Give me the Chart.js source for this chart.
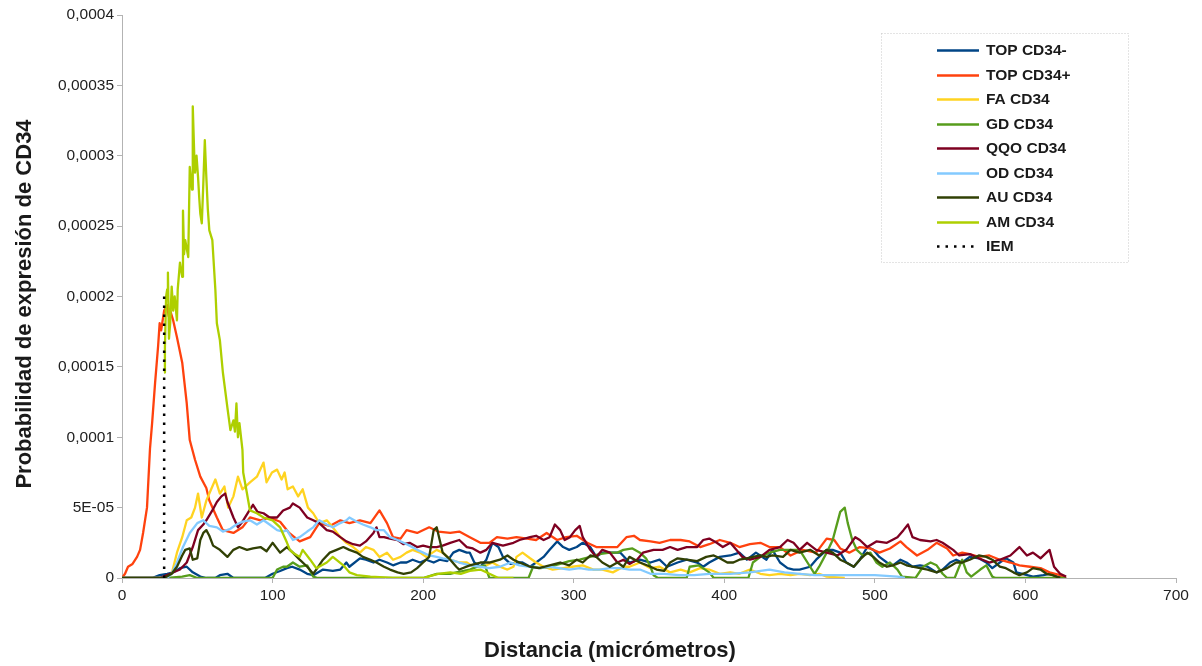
<!DOCTYPE html>
<html>
<head>
<meta charset="utf-8">
<script src="https://cdn.jsdelivr.net/npm/chart.js@4/dist/chart.umd.min.js"></script>
<style>
  html, body { margin: 0; padding: 0; background: #ffffff; }
  #wrap { width: 1202px; height: 666px; }
</style>
</head>
<body>
<div id="wrap"><canvas id="c" width="1202" height="666"></canvas></div>
<script>
// Distance (µm) vs. CD34 expression probability, values given in units of 1e-6.
const VALUE_UNIT = 1e-6;

const seriesLabels = ['TOP CD34-', 'TOP CD34+', 'FA CD34', 'GD CD34', 'QQO CD34', 'OD CD34', 'AU CD34', 'AM CD34', 'IEM'];
const xTitle = 'Distancia (micrómetros)';
const yTitle = 'Probabilidad de expresión de CD34';

const topNeg = [[0,0],[20,0],[25,2],[30,3],[34,4],[38.5,7],[43,8],[47,4],[52,1],[56,0],[62,0],[65,2],[70,3],[74,0],[95,0],[100,3],[105,5],[109.5,7],[113,8],[118,6],[123,3],[127,2],[133.5,6],[140,5],[145,6],[149,11],[151,8],[158,14],[162,13],[167,11],[171,13],[176,11],[180,9],[185,11],[189,11],[193,13],[198,11],[202,13],[207,11],[211,13],[216,12],[220,18],[224,20],[229,18],[231,18],[234,11],[238,8],[242,13],[246,25],[250,22],[253,15],[258,10],[262,11],[266,11],[271,8],[275,11],[280,15],[284,20],[289,26],[293,22],[297,20],[302,22],[306,25],[311,22],[315,15],[319,18],[326,18],[331,18],[337,11],[344,13],[351,11],[357,13],[362,8],[369,11],[375,13],[382,11],[386,8],[390,11],[397,15],[404,16],[410,18],[415,13],[421,18],[428,13],[432,20],[437,11],[442,7],[446,6],[450,6],[457,8],[461,13],[468,20],[472,20],[477,18],[481,11],[486,8],[490,13],[495,22],[499,20],[503,15],[508,11],[512,9],[517,13],[521,11],[525,8],[530,9],[535,8],[541,4],[545,6],[550,11],[554,13],[558,11],[563,15],[569,14],[574,11],[578,7],[583,11],[587,14],[592,11],[594,4],[598,3],[605,1],[612,2],[616,3],[621,1],[627,0]];

const topPos = [[0,0],[2,3],[4,8],[7,10],[10,15],[12,20],[14,32],[16.6,50],[18.6,92],[20,110],[22,139],[24,165],[25,181],[26,176],[28,190],[30,194],[31,186],[32,190],[34,183],[36.5,171],[40,153],[43,124],[45,98],[46.5,92],[48.5,84],[52,72],[56,64],[58,55],[63,43],[67,34],[74,32],[80,36],[85,43],[92,41],[98,43],[105,40],[111,32],[118,26],[125,29],[131,39],[138,37],[145,41],[151,39],[158,41],[165,39],[171,48],[176,39],[180,29],[185,28],[189,34],[196,32],[204,36],[210,33],[218,32],[224,33],[231,29],[238,25],[244,25],[249,29],[256,28],[262,29],[269,28],[275,27],[282,32],[289,27],[295,29],[302,30],[309,25],[315,22],[322,22],[329,22],[335,29],[340,30],[344,27],[351,26],[357,25],[364,27],[371,27],[377,26],[384,22],[390,24],[397,27],[404,25],[410,22],[417,24],[424,25],[430,22],[437,22],[444,16],[452,20],[461,18],[468,28],[473,27],[477,21],[483,18],[490,22],[497,21],[503,18],[510,21],[517,26],[521,22],[528,16],[535,20],[541,25],[548,21],[552,16],[558,18],[563,17],[569,15],[576,16],[583,13],[590,11],[596,9],[603,8],[610,7],[616,4],[623,2],[627,0]];

const fa = [[0,0],[25,0],[30,1],[33,3],[36.5,18],[40,29],[43,41],[46,43],[48.5,50],[50.5,60],[53,43],[56,55],[58,60],[62,70],[65,60],[68,65],[70.5,50],[74,58],[77,72],[80,63],[85,68],[89.6,72],[94,82],[96,68],[99.6,75],[103,77],[106,70],[108,75],[110,63],[113.5,65],[117,58],[120,63],[123.5,50],[127,46],[131,39],[136,41],[140,36],[145,29],[149,25],[153.5,22],[158,18],[162,22],[167,20],[171,15],[176,18],[180,13],[185,15],[189,18],[193,20],[198,18],[202,15],[209,20],[213,18],[218,13],[224,11],[229,11],[233,8],[240,8],[246,11],[251,8],[256,6],[260,8],[262,15],[266,18],[271,14],[275,11],[280,8],[286,6],[293,7],[299,8],[306,9],[313,6],[319,6],[326,4],[333,8],[337,8],[344,11],[351,7],[357,8],[364,4],[371,6],[377,4],[384,7],[390,6],[397,3],[404,4],[410,3],[417,6],[424,3],[430,2],[437,3],[444,2],[450,3],[457,2],[463,3],[468,1],[480,0]];

const gd = [[0,0],[30,0],[40,1],[45,2],[50,0],[100,0],[103,6],[107,8],[109.5,8],[113.5,11],[118,8],[123,9],[127,1],[130,0],[200,0],[209,3],[218,3],[222,4],[227,5],[231,6],[236,8],[241,9],[244,0],[270,0],[273,8],[278,7],[284,8],[291,10],[297,12],[304,13],[311,15],[317,17],[324,18],[329,18],[333,20],[339,21],[344,18],[348,14],[351,8],[353,2],[356,0],[375,0],[377,8],[383,9],[390,4],[393,0],[416,0],[419,11],[424,15],[430,18],[437,20],[444,20],[450,20],[457,8],[460,3],[463,8],[468,18],[472,27],[475,39],[477,47],[480,50],[482,39],[485,27],[488,20],[492,16],[497,18],[501,11],[505,8],[510,11],[515,6],[518,1],[527,0],[532,8],[537,11],[541,9],[545,3],[548,0],[553,0],[556,8],[558,13],[561,4],[564,1],[570,6],[574,9],[578,1],[580,0],[627,0]];

const qqo = [[0,0],[25,0],[32,3],[38.5,6],[43,11],[47,22],[50.5,34],[54,38],[56,41],[60,48],[63,54],[66,58],[68.5,60],[70,54],[74,43],[77,36],[80,40],[84,47],[87,52],[90,47],[94,46],[98,43],[103,43],[107,48],[111.5,50],[113.5,53],[118,50],[123,43],[127,41],[131,39],[136,34],[140,33],[145,29],[149,26],[153.5,24],[158,23],[162,26],[167,32],[169,36],[171,29],[174,29],[178,28],[183,27],[187,24],[191,25],[196,22],[200,23],[204,22],[209,22],[213,23],[218,25],[224,27],[229,22],[233,21],[238,18],[242,20],[246,25],[253,23],[260,25],[264,27],[271,29],[275,30],[280,27],[284,29],[287.5,38],[291,34],[294,27],[297.5,29],[301,34],[304,37],[306,29],[311,20],[315,15],[319,20],[324,18],[329,11],[333,13],[337,10],[342,13],[346,18],[353,20],[359,20],[364,22],[369,20],[375,22],[382,22],[386,27],[390,28],[395,25],[399,22],[404,25],[408,20],[412,15],[417,13],[424,15],[430,20],[437,22],[442,27],[446,25],[450,20],[455,25],[461,20],[468,18],[475,16],[481,20],[487,29],[490,27],[495,22],[501,26],[508,25],[515,29],[519,34],[522,38],[525,29],[530,27],[537,26],[541,27],[545,25],[552,20],[556,16],[563,17],[569,14],[576,11],[583,13],[590,16],[594,20],[596,22],[601,16],[605,18],[610,14],[614,18],[616,20],[619,8],[623,3],[627,1]];

const od = [[0,0],[30,0],[33,3],[36.5,11],[40.5,22],[45,32],[50,39],[54,41],[58,37],[63,36],[67,33],[72,35],[76,38],[80,40],[85,41],[89.6,38],[94,41],[98,38],[103,34],[107,33],[109.5,34],[113.5,27],[118,29],[123,33],[127,36],[131,41],[136,38],[140,36],[145,39],[149,41],[151,43],[156,40],[160,38],[165,36],[169,34],[174,34],[178,29],[183,27],[187,25],[191,23],[196,20],[200,18],[204,16],[209,15],[213,14],[218,13],[224,11],[231,9],[238,8],[244,7],[251,8],[258,11],[264,9],[271,8],[277,7],[284,8],[290,7],[297,6],[304,7],[310,6],[317,6],[324,7],[331,7],[337,6],[344,6],[351,3],[360,3],[370,2],[380,2],[390,3],[404,3],[417,4],[430,6],[440,4],[450,3],[460,2],[480,2],[500,2],[515,1],[520,0]];

const au = [[0,0],[28,0],[33,3],[36.5,8],[40,16],[42,20],[45,21],[47,13],[50,14],[52,27],[54,32],[56,34],[58,30],[60.5,23],[65,20],[70,15],[74,20],[78,22],[83,20],[87,21],[92,22],[96,19],[100,25],[105,18],[109.5,22],[113.5,18],[118,13],[123,8],[127,3],[129,6],[133.5,13],[138,18],[142.5,20],[147,22],[151,20],[156,18],[160,15],[165,13],[169,11],[174,8],[178,6],[183,4],[187,3],[192,4],[196,7],[200,11],[204,15],[207,34],[209,36],[211,27],[213,18],[218,13],[222,8],[224,6],[231,9],[238,11],[244,11],[251,13],[256,16],[260,13],[264,11],[271,8],[277,7],[284,9],[291,11],[297,9],[302,13],[306,11],[311,16],[315,15],[319,11],[324,8],[329,11],[333,8],[337,15],[344,11],[351,8],[355,6],[360,5],[364,11],[369,14],[375,13],[382,12],[388,15],[393,16],[397,14],[402,11],[406,11],[410,13],[415,14],[419,15],[424,16],[428,15],[432,16],[439,15],[444,20],[450,18],[457,20],[463,16],[468,20],[472,18],[477,13],[481,11],[486,8],[490,13],[495,18],[499,15],[503,11],[508,8],[512,9],[517,11],[521,9],[525,8],[530,7],[535,6],[541,4],[548,7],[554,11],[558,11],[563,13],[569,16],[574,15],[578,13],[583,8],[587,7],[592,4],[596,2],[601,4],[605,7],[610,6],[614,3],[618,2],[623,0]];

// AM profile begins at the boundary marker
const am = [[28,146],[28.5,164],[29.3,200],[30,205],[30.5,217],[31.2,170],[32,181],[33,207],[34,190],[35,200],[36.5,183],[37,205],[38.5,224],[40,214],[40.5,261],[41.2,230],[42,240],[44,228],[45,292],[46.5,276],[47,335],[48,300],[48.5,288],[49.5,300],[50.5,285],[51.3,270],[52,259],[53,252],[54,280],[55,311],[56,285],[57,262],[58,247],[60,240],[62,205],[63,181],[65,169],[67,146],[70,121],[72,105],[74,112],[75,104],[76,124],[77,100],[78,110],[80,91],[80.5,75],[83,60],[85,48],[89.6,46],[94,43],[100,41],[105,36],[109.6,25],[111.5,20],[113.5,18],[118,15],[120,20],[125,13],[129,7],[136,11],[140,15],[147,9],[151,4],[156,2],[165,1],[180,0],[200,0],[210,3],[218,4],[225,3],[231,5],[238,6],[244,3],[250,0],[260,0]];

// Boundary marker between regions (vertical dotted line)
const iem = [[28,0],[28,200]];

const seriesData = [topNeg, topPos, fa, gd, qqo, od, au, am, iem];
const seriesColors = ['#004586', '#ff420e', '#ffd320', '#579d1c', '#7e0021', '#83caff', '#314004', '#aecf00', '#000000'];

const xTicks = [0, 100, 200, 300, 400, 500, 600, 700];
const yTickLabels = ['0', '5E-05', '0,0001', '0,00015', '0,0002', '0,00025', '0,0003', '0,00035', '0,0004'];

const FONT = '"Liberation Sans", Arial, sans-serif';

const datasets = seriesData.map((pts, i) => {
  const isIem = seriesLabels[i] === 'IEM';
  return {
    label: seriesLabels[i],
    data: pts.map(([x, v]) => ({ x: x, y: v * VALUE_UNIT })),
    borderColor: seriesColors[i],
    backgroundColor: seriesColors[i],
    borderWidth: isIem ? 2.5 : 2.3,
    borderDash: isIem ? [2.5, 6.5] : [],
    borderCapStyle: 'butt',
    borderJoinStyle: 'round',
    pointRadius: 0,
    pointHoverRadius: 0,
    tension: 0,
    fill: false,
    // later series paint over earlier ones
    order: seriesData.length - i
  };
});

// Axis titles
const axisTitles = {
  id: 'axisTitles',
  afterDraw(chart) {
    const ctx = chart.ctx;
    ctx.save();
    ctx.fillStyle = '#1a1a1a';
    ctx.font = 'bold 22px ' + FONT;
    ctx.textAlign = 'center';
    ctx.textBaseline = 'middle';
    ctx.fillText(xTitle, 610, 651);
    ctx.translate(25, 304);
    ctx.rotate(-Math.PI / 2);
    ctx.fillText(yTitle, 0, 0);
    ctx.restore();
  }
};

// Framed legend in the upper right of the plot
const boxLegend = {
  id: 'boxLegend',
  afterDraw(chart) {
    const ctx = chart.ctx;
    const left = 881, top = 33, width = 247, height = 229;
    ctx.save();
    ctx.strokeStyle = '#c8c8c8';
    ctx.lineWidth = 1;
    ctx.setLineDash([1, 2]);
    ctx.strokeRect(left + 0.5, top + 0.5, width, height);
    ctx.setLineDash([]);
    const rowTop = 50, rowStep = 24.5;
    chart.data.datasets.forEach((ds, i) => {
      const y = Math.round(rowTop + i * rowStep) + 0.5;
      ctx.strokeStyle = ds.borderColor;
      ctx.lineWidth = 2.5;
      ctx.setLineDash(ds.borderDash && ds.borderDash.length ? [2.5, 6] : []);
      ctx.beginPath();
      ctx.moveTo(937, y);
      ctx.lineTo(979, y);
      ctx.stroke();
      ctx.setLineDash([]);
      ctx.fillStyle = '#1a1a1a';
      ctx.font = 'bold 15.5px ' + FONT;
      ctx.textBaseline = 'middle';
      ctx.textAlign = 'left';
      ctx.fillText(ds.label, 986, y);
    });
    ctx.restore();
  }
};

const whiteBg = {
  id: 'whiteBg',
  beforeDraw(chart) {
    const ctx = chart.ctx;
    ctx.save();
    ctx.fillStyle = '#ffffff';
    ctx.fillRect(0, 0, chart.width, chart.height);
    ctx.restore();
  }
};

new Chart(document.getElementById('c'), {
  type: 'line',
  data: { datasets: datasets },
  plugins: [whiteBg, boxLegend, axisTitles],
  options: {
    responsive: false,
    animation: false,
    layout: { padding: { left: 0, right: 26, top: 15, bottom: 0 } },
    plugins: {
      legend: { display: false },
      tooltip: { enabled: false }
    },
    scales: {
      x: {
        type: 'linear',
        min: xTicks[0],
        max: xTicks[xTicks.length - 1],
        afterBuildTicks(scale) { scale.ticks = xTicks.map(v => ({ value: v })); },
        afterFit(scale) { scale.height = 88; },
        border: { display: true, color: '#b3b3b3', width: 1 },
        grid: { display: true, drawOnChartArea: false, drawTicks: true, tickLength: 5, color: '#b3b3b3' },
        ticks: {
          color: '#222222',
          font: { family: FONT, size: 15.5 },
          padding: 3,
          maxRotation: 0,
          callback: (v) => String(v)
        },
        title: { display: false }
      },
      y: {
        type: 'linear',
        min: 0,
        max: 0.0004,
        afterBuildTicks(scale) { scale.ticks = yTickLabels.map((_, i) => ({ value: i * 0.00005 })); },
        afterFit(scale) { scale.width = 122; },
        border: { display: true, color: '#b3b3b3', width: 1 },
        grid: { display: true, drawOnChartArea: false, drawTicks: true, tickLength: 5, color: '#b3b3b3' },
        ticks: {
          color: '#222222',
          font: { family: FONT, size: 15.5 },
          padding: 3,
          callback: (v, i) => yTickLabels[i]
        },
        title: { display: false }
      }
    }
  }
});
</script>
</body>
</html>
